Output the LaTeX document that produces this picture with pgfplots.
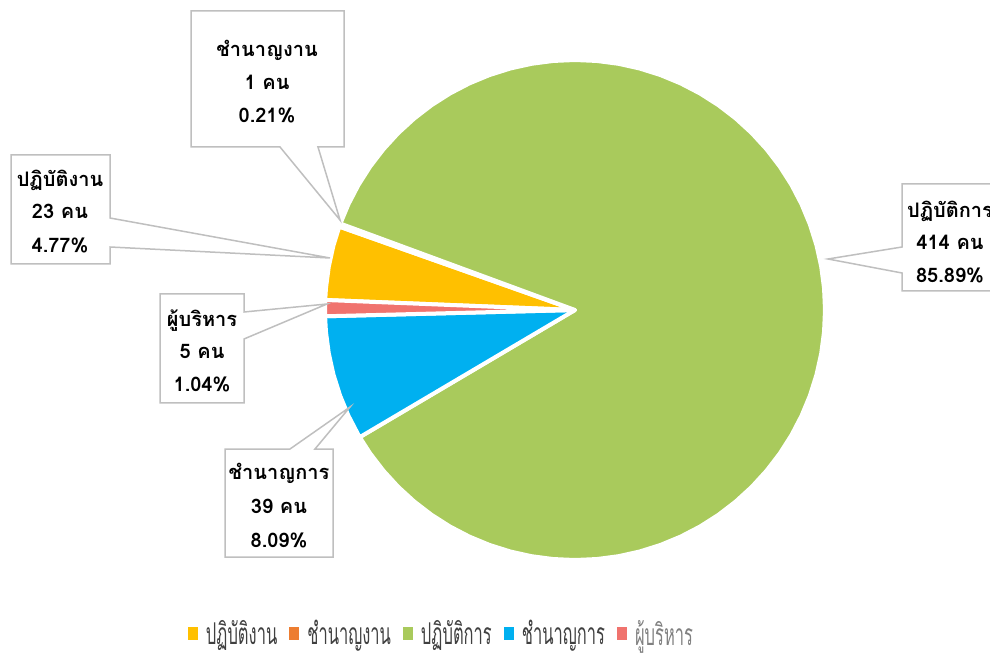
\documentclass[border=0pt]{standalone}
\usepackage{fontspec}
\usepackage{pgfplots}
\pgfplotsset{compat=1.18}
\usepgfplotslibrary{polar}
\newfontfamily\thai[Script=Thai]{Loma}
\newfontfamily\thaileg[Script=Thai,FakeStretch=0.55]{Loma}
\definecolor{cYel}{HTML}{FFC000}
\definecolor{cOra}{HTML}{ED7D31}
\definecolor{cGre}{HTML}{A9CA5C}
\definecolor{cBlu}{HTML}{00B0F0}
\definecolor{cRed}{HTML}{F0736E}
\definecolor{cBox}{HTML}{BFBFBF}
\definecolor{cTxt}{HTML}{404040}
% Data: ปฏิบัติงาน 23, ชำนาญงาน 1, ปฏิบัติการ 414, ชำนาญการ 39, ผู้บริหาร 5 (total 482)
\begin{document}
\begin{tikzpicture}[x=0.5pt,y=-0.5pt]
\useasboundingbox (0,0) rectangle (990,657);
\coordinate (C) at (575,310);
\begin{polaraxis}[
  at={(C)}, anchor=center,
  scale only axis, width=250pt, height=250pt,
  xmin=0, xmax=360, ymin=0, ymax=1,
  hide axis, clip=false,
  legend columns=5,
  legend style={at={(axis description cs:0.233,-0.148)}, anchor=center, draw=none, fill=none,
    font=\thaileg\fontsize{15}{17}\selectfont, text=cTxt,
    nodes={inner sep=1pt},
    /tikz/every even column/.append style={column sep=5pt}},
  legend image code/.code={\path[#1,draw=none] (0pt,-3pt) rectangle (5pt,3.5pt); \path (7pt,0pt);},
  every axis plot/.append style={draw=white, line width=2pt, line join=round},
]
% ปฏิบัติงาน (23)
\addplot[fill=cYel] coordinates {(0,0) (160.52,1) (165,1) (170,1) (175,1) (177.70,1)} -- cycle;
\addlegendentry{ปฏิบัติงาน}
% ชำนาญงาน (1)
\addplot[fill=cOra] coordinates {(0,0) (159.78,1) (160.52,1)} -- cycle;
\addlegendentry{ชำนาญงาน}
% ปฏิบัติการ (414)
\addplot[fill=cGre] coordinates {(0,0) (-149.43,1) (-145,1) (-140,1) (-135,1) (-130,1) (-125,1) (-120,1) (-115,1) (-110,1) (-105,1) (-100,1) (-95,1) (-90,1) (-85,1) (-80,1) (-75,1) (-70,1) (-65,1) (-60,1) (-55,1) (-50,1) (-45,1) (-40,1) (-35,1) (-30,1) (-25,1) (-20,1) (-15,1) (-10,1) (-5,1) (0,1) (5,1) (10,1) (15,1) (20,1) (25,1) (30,1) (35,1) (40,1) (45,1) (50,1) (55,1) (60,1) (65,1) (70,1) (75,1) (80,1) (85,1) (90,1) (95,1) (100,1) (105,1) (110,1) (115,1) (120,1) (125,1) (130,1) (135,1) (140,1) (145,1) (150,1) (155,1) (159.78,1)} -- cycle;
\addlegendentry{ปฏิบัติการ}
% ชำนาญการ (39)
\addplot[fill=cBlu] coordinates {(0,0) (181.44,1) (185,1) (190,1) (195,1) (200,1) (205,1) (210,1) (210.57,1)} -- cycle;
\addlegendentry{ชำนาญการ}
% ผู้บริหาร (5)
\addplot[fill=cRed] coordinates {(0,0) (177.70,1) (179.5,1) (181.44,1)} -- cycle;
\addlegendentry{\textcolor{gray}{ผู้บริหาร}}
\end{polaraxis}

\begin{scope}[draw=cBox, line width=0.75pt, fill=white, line join=miter]
\filldraw (191,11) -- (344,11) -- (344,147) -- (318,147) -- (340,220) -- (280,147) -- (191,147) -- cycle;
\filldraw (11,155) -- (110,155) -- (110,218) -- (330,258) -- (110,247) -- (110,264) -- (11,264) -- cycle;
\filldraw (160,294) -- (244,294) -- (244,312) -- (327,304) -- (244,339) -- (244,403) -- (160,403) -- cycle;
\filldraw (225,449) -- (290,449) -- (350,407) -- (315,449) -- (333,449) -- (333,557) -- (225,557) -- cycle;
\filldraw (902,184) -- (1010,184) -- (1010,291) -- (902,291) -- (902,273) -- (828,259) -- (902,247) -- cycle;
\end{scope}

\begin{scope}[every node/.style={anchor=base, font=\thai\bfseries\fontsize{10}{12}\selectfont, text=black, inner sep=0pt}]
\node at (267,57) {ชำนาญงาน};
\node at (267,90) {1 คน};
\node at (267,123) {0.21\%};
\node at (60,187) {ปฏิบัติงาน};
\node at (60,219) {23 คน};
\node at (60,253) {4.77\%};
\node at (202,327) {ผู้บริหาร};
\node at (202,359) {5 คน};
\node at (202,392) {1.04\%};
\node at (279,480) {ชำนาญการ};
\node at (279,513) {39 คน};
\node at (279,547) {8.09\%};
\node at (950,218) {ปฏิบัติการ};
\node at (950,250) {414 คน};
\node at (950,283) {85.89\%};
\end{scope}
\end{tikzpicture}
\end{document}
